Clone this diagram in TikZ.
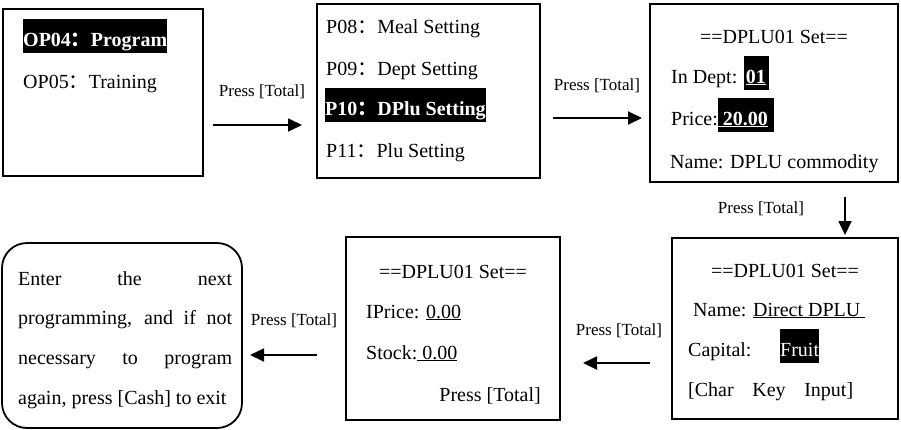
\documentclass[tikz,border=0pt]{standalone}
\usepackage{fontspec}
\setmainfont{Liberation Serif}
\newfontfamily\cjk{Noto Sans CJK SC}
\usepackage{tikz}
\usetikzlibrary{arrows.meta}

\newcommand{\inv}[1]{{\setlength{\fboxsep}{0pt}\colorbox{black}{\rule[-7pt]{0pt}{34pt}\textcolor{white}{#1}}}} % inverted (selected) text
\newcommand{\wcolon}{{\cjk ：}} % full width colon

\begin{document}
\begin{tikzpicture}[
    x=1pt, y=-1pt, % pixel-like coordinates, y going down
    screen/.style={draw, line width=1.8pt, inner sep=0pt}, % LCD screen frame
    txt/.style={font=\fontsize{20}{24}\selectfont, inner sep=0pt, anchor=base west},
    ttl/.style={txt, anchor=base}, % centred title line
    lbl/.style={font=\fontsize{17}{20}\selectfont, inner sep=0pt, anchor=base},
    arrowstyle/.style={-{Triangle[length=14pt, width=13pt]}, line width=1.8pt}
]
\useasboundingbox (0,0) rectangle (901,429);

% Screens
\node[screen, minimum width=200pt, minimum height=167pt] (s1) at (103,92.5) {};
\node[screen, minimum width=223pt, minimum height=174pt] (s2) at (428.5,91) {};
\node[screen, minimum width=248pt, minimum height=178pt] (s3) at (774,93) {};
\node[screen, minimum width=226pt, minimum height=181pt] (s4) at (785,328.5) {};
\node[screen, minimum width=214pt, minimum height=183pt] (s5) at (453,328.5) {};
\node[screen, rounded corners=25pt, minimum width=240pt, minimum height=185pt] (s6) at (122,335.5) {};

% Screen 1
\node[txt] (op04) at (23,46) {\inv{\bfseries OP04\wcolon Program}};
\node[txt] (op05) at (23,88) {OP05\wcolon Training};

% Screen 2
\node[txt] (p08) at (326,33) {P08\wcolon Meal Setting};
\node[txt] (p09) at (326,75) {P09\wcolon Dept Setting};
\node[txt] (p10) at (325,115) {\inv{\bfseries P10\wcolon DPlu Setting}};
\node[txt] (p11) at (326,157) {P11\wcolon Plu Setting};

% Screen 3
\node[ttl] (t3) at (774,43) {==DPLU01 Set==};
\node[txt] (dept) at (671,83) {In Dept: \inv{\kern2pt\bfseries\underline{01}\kern3pt}};
\node[txt] (price) at (671,125) {Price:\inv{\bfseries\underline{\ 20.00}\kern6pt}};
\node[txt] (name3) at (670,168) {Name: DPLU commodity};

% Screen 4
\node[ttl] (t4) at (785,277) {==DPLU01 Set==};
\node[txt] (name4) at (693,316) {Name: \underline{Direct DPLU\ }};
\node[txt] (capital) at (688,356) {\makebox[92pt][l]{Capital:}\inv{Fruit}};
\node[txt] (charkey) at (688,396) {\makebox[165pt][s]{[Char Key Input]}};

% Screen 5
\node[ttl] (t5) at (453,278) {==DPLU01 Set==};
\node[txt] (iprice) at (366,318) {IPrice: \underline{0.00}};
\node[txt] (stock) at (366,359) {Stock:\underline{\ 0.00}};
\node[txt, anchor=base east] (press5) at (541,401) {Press [Total]};

% Screen 6
\node[txt] (e1) at (18,285) {\makebox[214pt][s]{Enter the next}};
\node[txt] (e2) at (18,324) {\makebox[214pt][s]{programming, and if not}};
\node[txt] (e3) at (18,364) {\makebox[214pt][s]{necessary to program}};
\node[txt] (e4) at (18,404) {again, press [Cash] to exit};

% Key labels
\node[lbl] (l1) at (262,96) {Press [Total]};
\node[lbl] (l2) at (597,90) {Press [Total]};
\node[lbl] (l3) at (761,213) {Press [Total]};
\node[lbl] (l4) at (619,335) {Press [Total]};
\node[lbl] (l5) at (294,325) {Press [Total]};

% Arrows
\coordinate (a1s) at (213,125); \coordinate (a1e) at (302,125);
\coordinate (a2s) at (553,118); \coordinate (a2e) at (642,118);
\coordinate (a3s) at (845,197); \coordinate (a3e) at (845,235);
\coordinate (a4s) at (650,363); \coordinate (a4e) at (583,363);
\coordinate (a5s) at (317,355); \coordinate (a5e) at (250,355);

\draw[arrowstyle] (a1s) -- (a1e);
\draw[arrowstyle] (a2s) -- (a2e);
\draw[arrowstyle] (a3s) -- (a3e);
\draw[arrowstyle] (a4s) -- (a4e);
\draw[arrowstyle] (a5s) -- (a5e);

\end{tikzpicture}
\end{document}
